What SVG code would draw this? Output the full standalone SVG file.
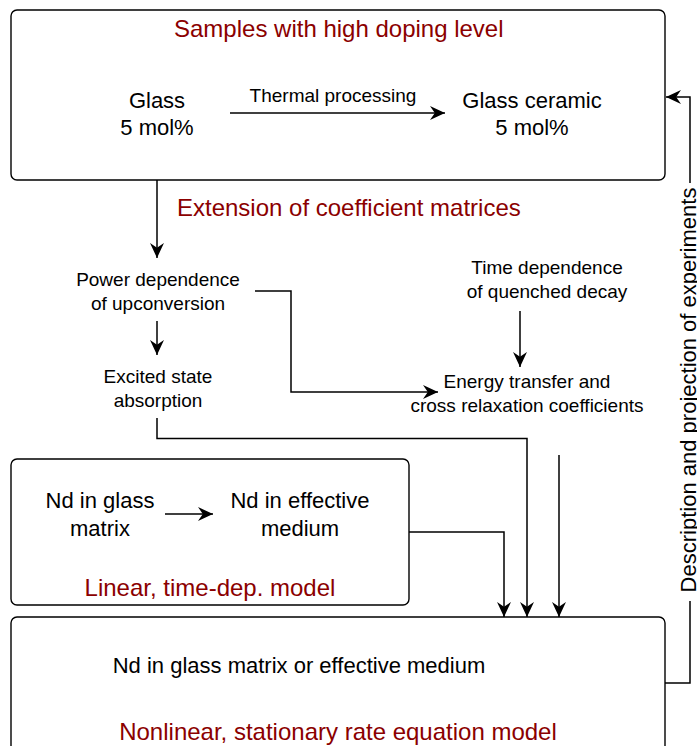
<svg xmlns="http://www.w3.org/2000/svg" width="697" height="746" viewBox="0 0 697 746">
  <style>
    .box { fill: #ffffff; stroke: #000000; stroke-width: 1.4; }
    .edge { fill: none; stroke: #000000; stroke-width: 1.5; }
    text { font-family: "Liberation Sans", Arial, Helvetica, sans-serif; fill: #000000; text-anchor: middle; }
    .main { font-size: 22px; }
    .small { font-size: 19px; }
    .title { font-size: 24px; fill: #8b0000; }
    .side { font-size: 22px; }
  </style>
  <defs>
    <marker id="head" markerUnits="userSpaceOnUse" markerWidth="15" markerHeight="14" viewBox="0 0 14 13" refX="14" refY="6.5" orient="auto">
      <path d="M14,6.5 L0,0 L4.5,6.5 L0,13 Z" fill="#000000"/>
    </marker>
  </defs>

  <rect width="697" height="746" fill="#ffffff"/>

  <!-- samples box -->
  <g id="samples">
    <rect class="box" x="11" y="10" width="654" height="170" rx="6"/>
    <text class="title" x="174" y="37" style="text-anchor:start">Samples with high doping level</text>
    <text class="small" x="333" y="102">Thermal processing</text>
  </g>
  <g id="glass">
    <text class="main" x="157" y="108">Glass</text>
    <text class="main" x="157" y="135">5 mol%</text>
  </g>
  <g id="glass-ceramic">
    <text class="main" x="532" y="108">Glass ceramic</text>
    <text class="main" x="532" y="135">5 mol%</text>
  </g>

  <!-- coefficient extension -->
  <g id="extension">
    <text class="title" x="177" y="216" style="text-anchor:start">Extension of coefficient matrices</text>
  </g>
  <g id="power-dependence">
    <text class="small" x="158" y="286">Power dependence</text>
    <text class="small" x="158" y="310">of upconversion</text>
  </g>
  <g id="esa">
    <text class="small" x="158" y="383">Excited state</text>
    <text class="small" x="158" y="407">absorption</text>
  </g>
  <g id="time-dependence">
    <text class="small" x="547" y="274">Time dependence</text>
    <text class="small" x="547" y="298">of quenched decay</text>
  </g>
  <g id="coefficients">
    <text class="small" x="527" y="388">Energy transfer and</text>
    <text class="small" x="527" y="412">cross relaxation coefficients</text>
  </g>

  <!-- linear model -->
  <g id="linear-model">
    <rect class="box" x="11" y="459" width="398" height="146" rx="6"/>
    <text class="title" x="210" y="596">Linear, time-dep. model</text>
  </g>
  <g id="nd-glass">
    <text class="main" x="100" y="508">Nd in glass</text>
    <text class="main" x="100" y="536">matrix</text>
  </g>
  <g id="nd-effective">
    <text class="main" x="300" y="508">Nd in effective</text>
    <text class="main" x="300" y="536">medium</text>
  </g>

  <!-- nonlinear model -->
  <g id="nonlinear-model">
    <rect class="box" x="11" y="617" width="654" height="150" rx="6"/>
    <text class="main" x="299" y="673">Nd in glass matrix or effective medium</text>
    <text class="title" x="338" y="740">Nonlinear, stationary rate equation model</text>
  </g>

  <!-- connectors, drawn over the boxes so the arrowheads stay visible -->
  <g id="connectors">
    <path class="edge" d="M230,113 H445" marker-end="url(#head)"/>
    <path class="edge" d="M157,180 V258" marker-end="url(#head)"/>
    <path class="edge" d="M157,321 V355" marker-end="url(#head)"/>
    <path class="edge" d="M255,291 H291 V392 H438" marker-end="url(#head)"/>
    <path class="edge" d="M520,311 V367" marker-end="url(#head)"/>
    <path class="edge" d="M157,418 V438.5 H527 V617" marker-end="url(#head)"/>
    <path class="edge" d="M559,455 V617" marker-end="url(#head)"/>
    <path class="edge" d="M409,532 H504 V617" marker-end="url(#head)"/>
    <path class="edge" d="M165,514 H213" marker-end="url(#head)"/>
    <!-- feedback loop, split around its label -->
    <path class="edge" d="M665,683 H690 V601"/>
    <path class="edge" d="M690,183 V97 H666" marker-end="url(#head)"/>
    <text class="side" transform="translate(696,390) rotate(-90)">Description and projection of experiments</text>
  </g>
</svg>
